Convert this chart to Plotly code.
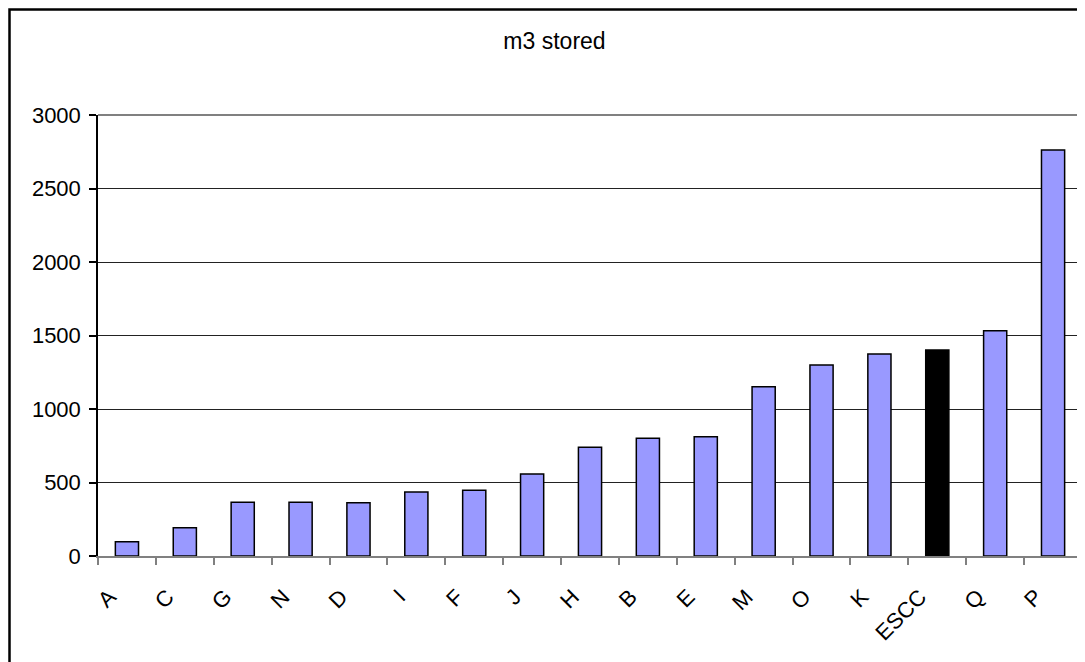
import plotly.graph_objects as go

categories = ["A", "C", "G", "N", "D", "I", "F", "J", "H", "B", "E", "M", "O", "K", "ESCC", "Q", "P"]
values = [97, 193, 365, 365, 363, 435, 447, 558, 739, 801, 812, 1152, 1299, 1374, 1401, 1533, 2762]
highlight = "ESCC"
y_ticks = [0, 500, 1000, 1500, 2000, 2500, 3000]
title_text = "m3 stored"

colors = ["#000000" if c == highlight else "#9999FF" for c in categories]
pad = "\u00a0\u00a0\u00a0\u00a0"
tick_text = [c + pad for c in categories]

# page body has an 8px margin; the figure is sized to fit the window
W, H = 1077, 654
ml, mr, mt, mb = 90, 3, 107, 106
pw = W - ml - mr
ph = H - mt - mb

fig = go.Figure(go.Bar(
    x=categories, y=values,
    marker=dict(color=colors, line=dict(color="#000000", width=1.5)),
))

font = "Liberation Sans, Arial, sans-serif"

fig.update_layout(
    width=W, height=H,
    margin=dict(l=ml, r=mr, t=mt, b=mb, autoexpand=False),
    paper_bgcolor="white", plot_bgcolor="white",
    bargap=0.6,
    showlegend=False,
    font=dict(family=font, color="black", size=22),
    title=dict(text=title_text, x=546.5 / W, y=1 - 33 / H, xanchor="center", yanchor="middle",
               font=dict(family=font, size=23, color="black")),
    xaxis=dict(
        type="category", tickangle=-45, tickson="boundaries",
        tickvals=categories, ticktext=tick_text,
        ticks="outside", ticklen=7, tickcolor="#808080", tickwidth=1.5,
        showline=True, linecolor="#808080", linewidth=2,
        showgrid=False, tickfont=dict(size=22),
        range=[-0.5, len(categories) - 0.5],
    ),
    yaxis=dict(
        range=[0, 3000], tickvals=y_ticks,
        ticks="outside", ticklen=7, tickcolor="black", tickwidth=1.5,
        showline=True, linecolor="black", linewidth=1.5,
        showgrid=True, gridcolor="#222222", gridwidth=1,
        zeroline=False, tickfont=dict(size=22), ticklabelstandoff=4,
    ),
    shapes=[
        dict(type="line", xref="paper", yref="paper", x0=0, x1=1, y0=1, y1=1,
             line=dict(color="#808080", width=2)),
        dict(type="line", xref="paper", yref="paper", x0=1, x1=1, y0=0, y1=1,
             line=dict(color="#808080", width=2)),
        dict(type="rect", xref="paper", yref="paper",
             x0=(1.5 - ml) / pw, x1=1.2, y0=-0.6, y1=(H - mb - 1.5) / ph,
             line=dict(color="black", width=2.5), fillcolor="rgba(0,0,0,0)"),
    ],
)

fig.write_html("out.html")
